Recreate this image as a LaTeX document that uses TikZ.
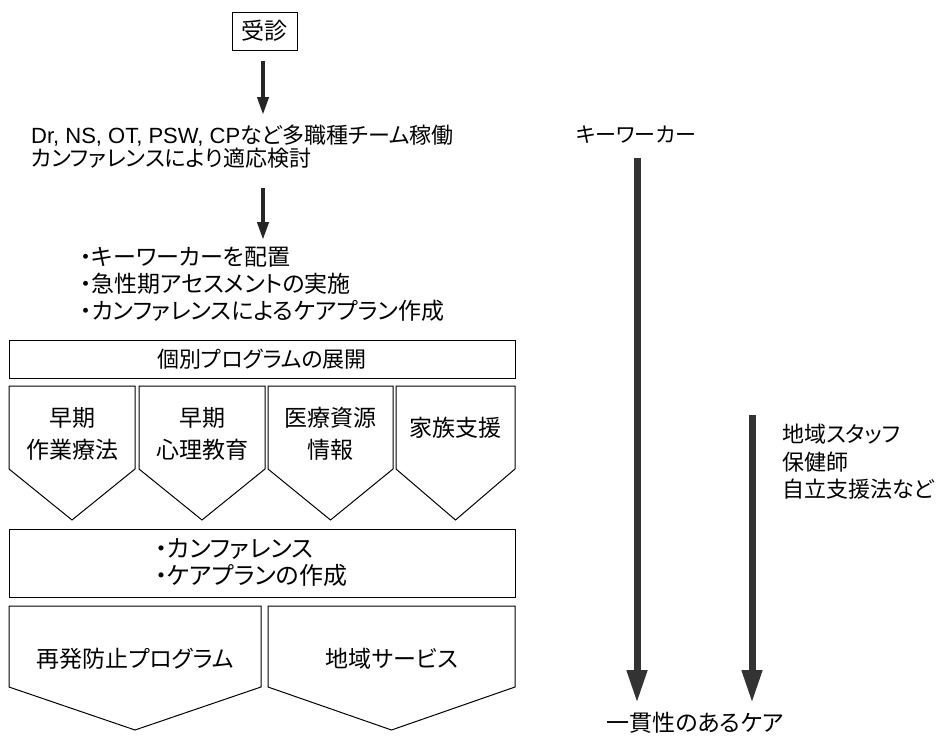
\documentclass[tikz,border=0pt]{standalone}
\usepackage{fontspec}
\setmainfont{Noto Sans CJK JP}[RawFeature={+palt}]
\newfontfamily\latfont{Liberation Sans}
\usetikzlibrary{arrows.meta}
\begin{document}
\begin{tikzpicture}[x=1pt,y=-1pt,
  every node/.style={inner sep=0pt, font=\fontsize{21}{27}\selectfont},
  box/.style={draw, line width=1pt},
  pent/.style={draw, line width=1pt, line join=miter},
  smallarrow/.style={line width=4pt, draw=black!85, -{Triangle[length=18pt,width=11pt]}},
  bigarrow/.style={line width=7pt, draw=black!80, -{Triangle[length=33pt,width=19pt]}},
  ptext/.style={font=\fontsize{23}{32}\selectfont, align=center},
  ltext/.style={anchor=west, align=left}]
\path[use as bounding box] (0,0) rectangle (937,737);

% top
\node[box, minimum width=65pt, minimum height=38pt, font=\fontsize{23}{27}\selectfont] (jushin) at (264.5,31) {受診};
\node[ltext, font=\fontsize{22}{23}\selectfont] (team) at (31,147) {{\latfont Dr, NS, OT, PSW, CP}など多職種チーム稼働\\カンファレンスにより適応検討};
\node[ltext, font=\fontsize{23}{27}\selectfont] (tasks) at (80,284) {・キーワーカーを配置\\・急性期アセスメントの実施\\・カンファレンスによるケアプラン作成};
\coordinate (a1end) at (263,115);
\coordinate (a2start) at (263,188);
\coordinate (a2end) at (263,240);
\draw[smallarrow, shorten <=10pt] (jushin.south -| a1end) -- (a1end);
\draw[smallarrow] (a2start) -- (a2end);

% programme header
\node[box, minimum width=506pt, minimum height=38pt, font=\fontsize{22}{27}\selectfont] (prog) at (262,359) {個別プログラムの展開};

% pentagons row 1
\draw[pent] (9,386) -- (135,386) -- (135,469) -- (72,520) -- (9,469) -- cycle;
\node[ptext] (p1) at (72,434) {早期\\作業療法};
\draw[pent] (139,386) -- (265,386) -- (265,469) -- (202,520) -- (139,469) -- cycle;
\node[ptext] (p2) at (202,434) {早期\\心理教育};
\draw[pent] (268,386) -- (393,386) -- (393,469) -- (330.5,520) -- (268,469) -- cycle;
\node[ptext] (p3) at (330.5,434) {医療資源\\情報};
\draw[pent] (396,386) -- (515,386) -- (515,469) -- (455.5,520) -- (396,469) -- cycle;
\node[ptext] (p4) at (455.5,428) {家族支援};

% conference box
\node[box, minimum width=506pt, minimum height=68pt] (conf) at (262,563) {};
\node[ltext, font=\fontsize{24}{27}\selectfont] (conftext) at (155,563) {・カンファレンス\\・ケアプランの作成};

% pentagons row 2
\draw[pent] (9,606) -- (261,606) -- (261,687) -- (135,730) -- (9,687) -- cycle;
\node[font=\fontsize{23}{30}\selectfont] (relapse) at (135,659) {再発防止プログラム};
\draw[pent] (268,606) -- (515,606) -- (515,687) -- (391.5,730) -- (268,687) -- cycle;
\node[font=\fontsize{23}{30}\selectfont] (community) at (392,659) {地域サービス};

% right side
\node (kw) at (636,135) {キーワーカー};
\node[font=\fontsize{23}{27}\selectfont] (care) at (695,723) {一貫性のあるケア};
\node[ltext, font=\fontsize{22}{27.5}\selectfont] (local) at (782,462) {地域スタッフ\\保健師\\自立支援法など};
\coordinate (kwtop) at (637,158);
\coordinate (lstop) at (752,415);
\draw[bigarrow, shorten >=9pt] (kwtop) -- (kwtop |- care.north);
\draw[bigarrow, shorten >=9pt] (lstop) -- (lstop |- care.north);
\end{tikzpicture}
\end{document}
